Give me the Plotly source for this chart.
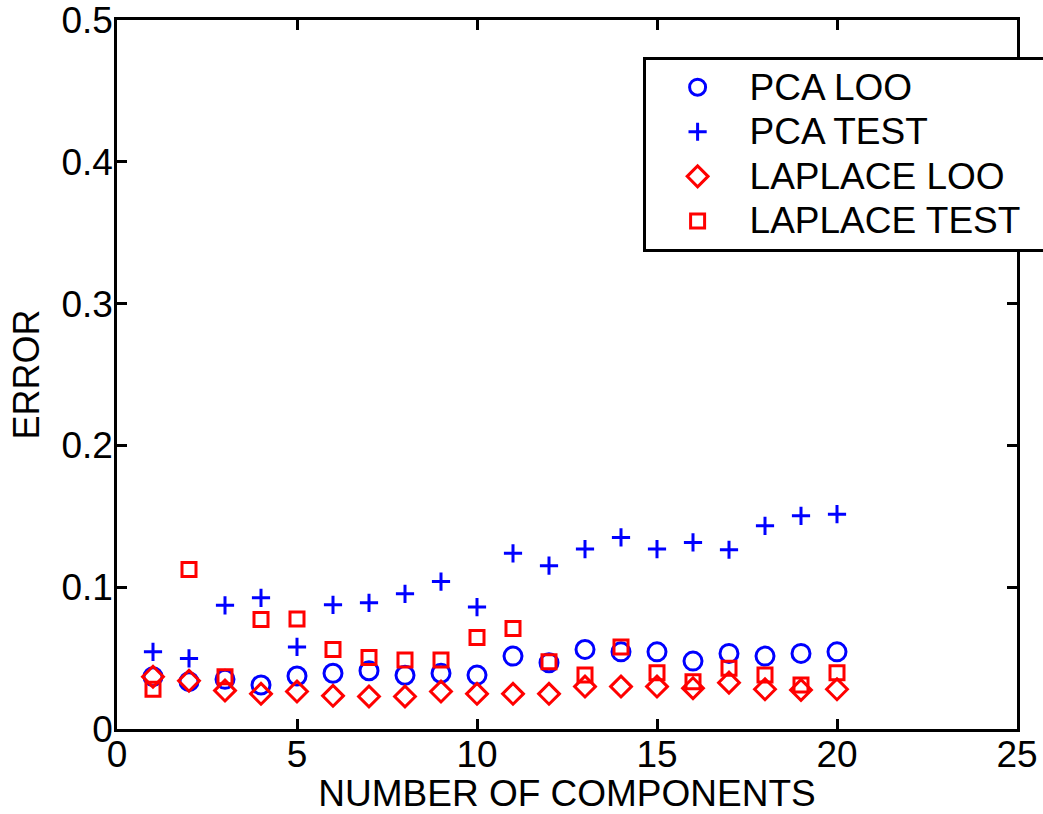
import plotly.graph_objects as go

components = list(range(1, 21))

pca_loo = [0.0369, 0.0334, 0.0350, 0.0310, 0.0374, 0.0393, 0.0411, 0.0379, 0.0393, 0.0380,
           0.0514, 0.0467, 0.0561, 0.0544, 0.0544, 0.0479, 0.0533, 0.0514, 0.0533, 0.0544]
pca_test = [0.0544, 0.0498, 0.0872, 0.0925, 0.0579, 0.0876, 0.0890, 0.0953, 0.1040, 0.0860,
            0.1239, 0.1152, 0.1269, 0.1351, 0.1269, 0.1316, 0.1264, 0.1433, 0.1503, 0.1515]
laplace_loo = [0.0369, 0.0340, 0.0271, 0.0248, 0.0264, 0.0234, 0.0229, 0.0229, 0.0264, 0.0248,
               0.0248, 0.0248, 0.0299, 0.0299, 0.0299, 0.0288, 0.0327, 0.0280, 0.0275, 0.0280]
laplace_test = [0.0280, 0.1124, 0.0369, 0.0773, 0.0776, 0.0561, 0.0505, 0.0486, 0.0486, 0.0645,
                0.0708, 0.0474, 0.0381, 0.0579, 0.0397, 0.0334, 0.0428, 0.0381, 0.0311, 0.0397]

series_names = ["PCA LOO", "PCA TEST", "LAPLACE LOO", "LAPLACE TEST"]

x_ticks = [0, 5, 10, 15, 20, 25]
y_ticks = [0, 0.1, 0.2, 0.3, 0.4, 0.5]
y_tick_labels = ["0", "0.1", "0.2", "0.3", "0.4", "0.5"]

BLUE = "#0000ff"
RED = "#ff0000"
FONT = "Liberation Sans, Arial, Helvetica, sans-serif"


def legend_label(text, pad=0):
    # larger text than the legend's row-spacing font, as in the reference
    return '<span style="font-size:37px">' + text + "\u00a0" * pad + "</span>"


fig = go.Figure()
fig.add_trace(go.Scatter(x=components, y=pca_loo, mode="markers", name=legend_label(series_names[0]),
                         marker=dict(symbol="circle-open", size=18, color=BLUE,
                                     line=dict(width=3, color=BLUE))))
fig.add_trace(go.Scatter(x=components, y=pca_test, mode="markers", name=legend_label(series_names[1]),
                         marker=dict(symbol="cross-thin-open", size=13, color=BLUE,
                                     line=dict(width=3, color=BLUE))))
fig.add_trace(go.Scatter(x=components, y=laplace_loo, mode="markers", name=legend_label(series_names[2]),
                         marker=dict(symbol="diamond-open", size=16, color=RED,
                                     line=dict(width=3, color=RED))))
fig.add_trace(go.Scatter(x=components, y=laplace_test, mode="markers", name=legend_label(series_names[3], 2),
                         marker=dict(symbol="square-open", size=14, color=RED,
                                     line=dict(width=3, color=RED))))

axis_common = dict(showgrid=False, zeroline=False, showline=True, linecolor="black",
                   linewidth=2.5, mirror="ticks", ticks="inside", ticklen=10,
                   tickwidth=2.5, tickcolor="black", ticklabeloverflow="allow",
                   tickfont=dict(family=FONT, size=37, color="black"))

fig.update_xaxes(range=[0, 25], tickvals=x_ticks, ticktext=[str(v) for v in x_ticks],
                 ticklabelstandoff=-9,
                 title=dict(text="NUMBER OF COMPONENTS", font=dict(family=FONT, size=37, color="black"),
                            standoff=5),
                 **axis_common)
fig.update_yaxes(range=[0, 0.5], tickvals=y_ticks, ticktext=y_tick_labels,
                 ticklabelstandoff=-6,
                 title=dict(text="ERROR", font=dict(family=FONT, size=36, color="black"),
                            standoff=11),
                 **axis_common)

fig.update_layout(
    width=1043, height=814,
    margin=dict(l=117, r=26, t=20, b=85, autoexpand=False),
    plot_bgcolor="white", paper_bgcolor="white",
    showlegend=True,
    legend=dict(x=0.584, y=0.948, xanchor="left", yanchor="top",
                bordercolor="black", borderwidth=3, bgcolor="white",
                font=dict(family=FONT, size=32, color="black"),
                itemwidth=94, indentation=0,
                itemsizing="trace", tracegroupgap=0),
)

fig.write_html("out.html")
